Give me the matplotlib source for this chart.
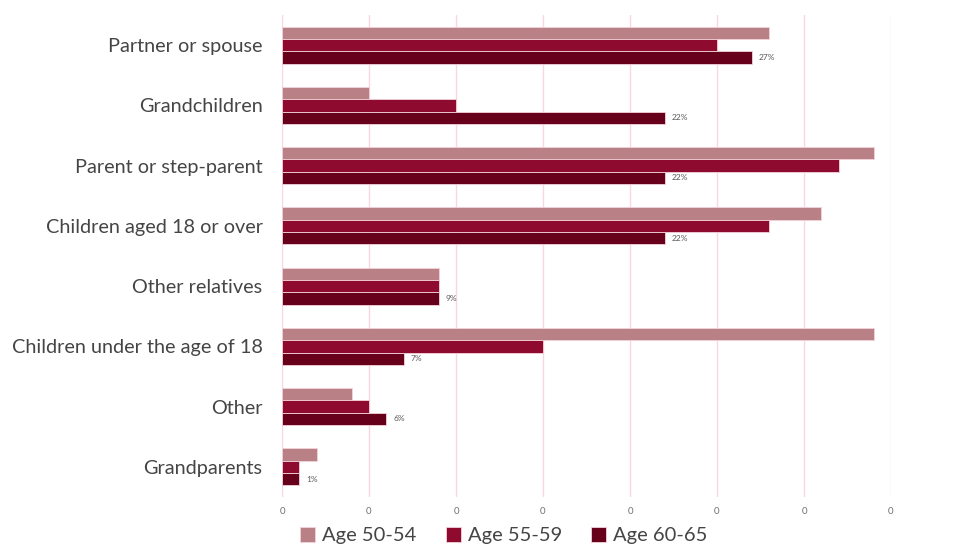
import matplotlib.pyplot as plt
import numpy as np
from matplotlib.ticker import FixedLocator, FixedFormatter

categories = [
    "Partner or spouse",
    "Grandchildren",
    "Parent or step-parent",
    "Children aged 18 or over",
    "Other relatives",
    "Children under the age of 18",
    "Other",
    "Grandparents",
]
series_names = ["Age 50-54", "Age 55-59", "Age 60-65"]
age_50_54 = [28, 5, 34, 31, 9, 34, 4, 2]
age_55_59 = [25, 10, 32, 28, 9, 15, 5, 1]
age_60_65 = [27, 22, 22, 22, 9, 7, 6, 1]
x_ticks = [0, 5, 10, 15, 20, 25, 30, 35]
x_tick_labels = ["0"] * len(x_ticks)

colors = ["#B98086", "#8F0A2F", "#67001B"]
grid_color = "#F8D7E2"
font = ["Lato", "DejaVu Sans"]
text_color = "#454545"

fig = plt.figure(figsize=(9.69, 5.47), dpi=100)
ax = fig.add_axes([282 / 969, 1 - 497 / 547, (891 - 282) / 969, (497 - 15) / 547])

y = np.arange(len(categories))
h = 0.205
values = [age_50_54, age_55_59, age_60_65]
for i, (vals, name, c) in enumerate(zip(values, series_names, colors)):
    ax.barh(y + (i - 1) * h, vals, height=h, color=c, label=name,
            edgecolor="#F3D3DB", linewidth=0.6, zorder=3)

for yi, v in zip(y, age_60_65):
    ax.text(v + 0.4, yi + h, f"{v}%", va="center", ha="left",
            fontsize=6, color="#595959", family=font)

ax.set_xlim(0, 35)
ax.set_ylim(len(categories) - 0.5, -0.5)
ax.xaxis.set_major_locator(FixedLocator(x_ticks))
ax.xaxis.set_major_formatter(FixedFormatter(x_tick_labels))
ax.set_yticks(y)
ax.set_yticklabels(categories, fontsize=14.3, color=text_color, family=font)
ax.tick_params(axis="y", length=0, pad=14)
ax.tick_params(axis="x", length=0, pad=7, labelsize=7, labelcolor="#707070")
for lab in ax.get_xticklabels():
    lab.set_family(font)

ax.grid(axis="x", color=grid_color, linewidth=1, zorder=0)
for s in ax.spines.values():
    s.set_visible(False)

leg = fig.legend(loc="lower center", bbox_to_anchor=(0.52, -0.028), ncol=3,
                 frameon=False, handlelength=0.75, handleheight=0.75,
                 handletextpad=0.35, columnspacing=1.45,
                 prop={"family": font, "size": 14.5})
for t in leg.get_texts():
    t.set_color(text_color)

fig.savefig("out.png", dpi=100)
